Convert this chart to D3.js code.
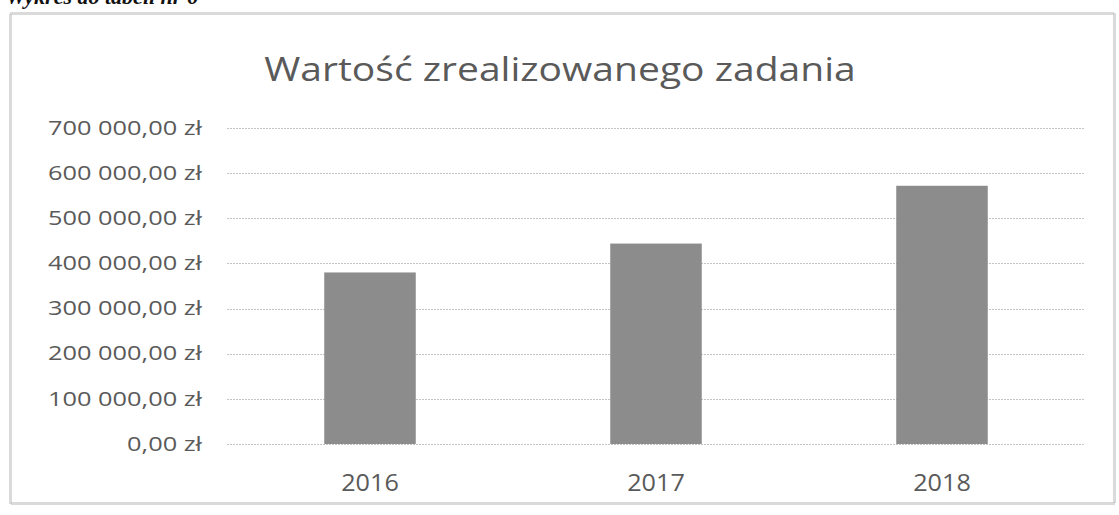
<!DOCTYPE html>
<html>
<head>
<meta charset="utf-8">
<script src="https://cdn.jsdelivr.net/npm/d3@7"></script>
<style>
  body { margin: 0; background: #fff; }
  svg { display: block; }
</style>
</head>
<body>
<script>
// data
var years = ["2016", "2017", "2018"];
var values = [380000, 444000, 572000];
var yTicks = [0, 100000, 200000, 300000, 400000, 500000, 600000, 700000];

var W = 1119, H = 515;
var svg = d3.select("body").append("svg")
    .attr("width", W)
    .attr("height", H);

// caption cut off at the top of the scan
svg.append("text")
    .attr("x", 6)
    .attr("y", 4)
    .attr("font-family", "Liberation Serif")
    .attr("font-style", "italic")
    .attr("font-weight", "bold")
    .attr("font-size", 22)
    .attr("fill", "#111")
    .text("Wykres do tabeli nr 6");

// chart frame (dotted, scanned look)
svg.append("rect")
    .attr("x", 10.5)
    .attr("y", 13.5)
    .attr("width", 1104)
    .attr("height", 490)
    .attr("fill", "#fff")
    .attr("stroke", "#b5b5b5")
    .attr("stroke-width", 3)
    .attr("stroke-dasharray", "1 1");

var plotLeft = 227, plotRight = 1085, plotTop = 128, plotBottom = 444;

var x = d3.scaleBand()
    .domain(years)
    .range([plotLeft, plotRight])
    .paddingInner(0.68)
    .paddingOuter(0.34);

var y = d3.scaleLinear()
    .domain([0, 700000])
    .range([plotBottom, plotTop]);

var fmt = function(d) {
  var s = d3.format(",.2f")(d).replace(/,/g, " ").replace(".", ",");
  return s + " zł";
};

// gridlines
svg.append("g")
  .selectAll("line")
  .data(yTicks)
  .join("line")
    .attr("x1", plotLeft)
    .attr("x2", plotRight)
    .attr("y1", function(d) { return Math.round(y(d)) + 0.5; })
    .attr("y2", function(d) { return Math.round(y(d)) + 0.5; })
    .attr("stroke", "#c4c4c4")
    .attr("stroke-width", 1)
    .attr("stroke-dasharray", "2 1");

// y axis labels (the scan is stretched sideways, so the text is too)
var yAxis = svg.append("g")
    .attr("transform", "translate(" + (plotLeft - 25) + ",0)")
    .call(d3.axisLeft(y).tickValues(yTicks).tickFormat(fmt).tickSize(0).tickPadding(0));
yAxis.select(".domain").remove();
yAxis.selectAll("text")
    .attr("font-family", "Open Sans")
    .attr("font-size", 19.5)
    .attr("fill", "#5a5a5a")
    .attr("transform", "scale(1.3,1)");

// bars
svg.append("g")
  .selectAll("rect")
  .data(values)
  .join("rect")
    .attr("x", function(d, i) { return x(years[i]); })
    .attr("y", function(d) { return y(d); })
    .attr("width", x.bandwidth())
    .attr("height", function(d) { return plotBottom - y(d); })
    .attr("fill", "#8c8c8c");

// x axis labels
var xAxis = svg.append("g")
    .attr("transform", "translate(0," + (plotBottom + 30) + ")")
    .call(d3.axisBottom(x).tickSize(0).tickPadding(0));
xAxis.select(".domain").remove();
xAxis.selectAll("text")
    .attr("font-family", "Open Sans")
    .attr("font-size", 24)
    .attr("fill", "#5a5a5a")
    .attr("transform", "scale(1.05,1)");

// title
svg.append("text")
    .attr("transform", "translate(560,81) scale(1.22,1)")
    .attr("text-anchor", "middle")
    .attr("font-family", "Open Sans")
    .attr("font-size", 32)
    .attr("fill", "#5a5a5a")
    .text("Wartość zrealizowanego zadania");
</script>
</body>
</html>
